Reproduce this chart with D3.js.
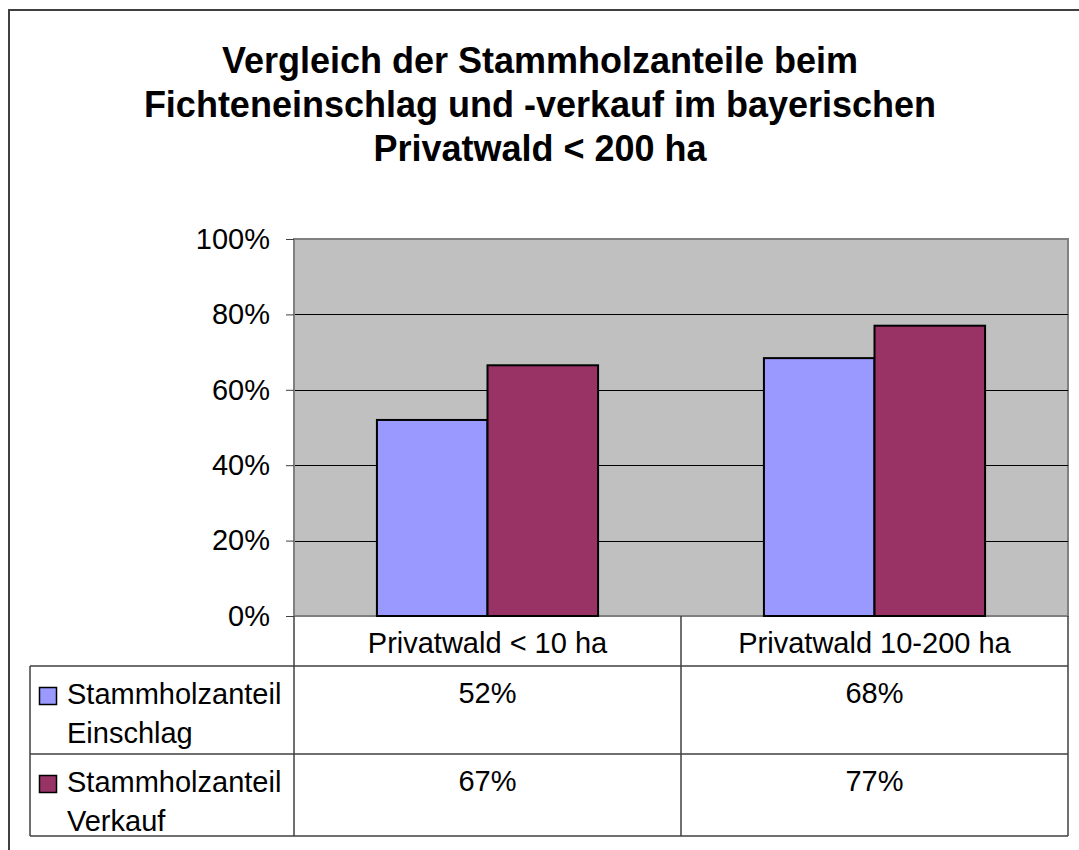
<!DOCTYPE html>
<html>
<head>
<meta charset="utf-8">
<script src="https://cdn.jsdelivr.net/npm/d3@7"></script>
<style>
  body { margin: 0; background: #fff; }
  svg { display: block; font-family: "Liberation Sans", Arial, sans-serif; }
</style>
</head>
<body>
<div id="graph1"></div>
<script>
/* data */
var titleLines = ["Vergleich der Stammholzanteile beim",
                  "Fichteneinschlag und -verkauf im bayerischen",
                  "Privatwald < 200 ha"];
var categories = ["Privatwald < 10 ha", "Privatwald 10-200 ha"];
var seriesNames = [["Stammholzanteil", "Einschlag"], ["Stammholzanteil", "Verkauf"]];
var seriesColors = ["#9999FF", "#993366"];
var einschlag = [0.52, 0.684];   // share of Stammholz, per category
var verkauf = [0.665, 0.77];
var yTicks = [0, 0.2, 0.4, 0.6, 0.8, 1];

var seriesValues = [einschlag, verkauf];

var width = 1079, height = 850;
var plot = {left: 294, right: 1068, top: 239, bottom: 616};
var tbl = {left: 30, catTop: 616, rows: [666, 754, 836]};

drawChart();

function drawChart(){
  var svg = d3.select("#graph1").append("svg")
      .attr("width", width)
      .attr("height", height);

  // outer frame (runs off the right/bottom like the original)
  svg.append("rect")
      .attr("x", 9).attr("y", 10)
      .attr("width", 1200).attr("height", 1000)
      .attr("fill", "none")
      .attr("stroke", "#404040")
      .attr("stroke-width", 2);

  // title
  svg.append("text")
      .attr("text-anchor", "middle")
      .attr("font-weight", "bold")
      .attr("font-size", 36)
      .selectAll("tspan")
      .data(titleLines)
      .enter().append("tspan")
      .attr("x", 540)
      .attr("y", function(d, i){ return 73 + i * 44; })
      .text(function(d){ return d; });

  var x = d3.scaleBand()
      .domain(categories)
      .range([plot.left, plot.right]);

  var xs = d3.scaleBand()
      .domain([0, 1])
      .range([0, x.bandwidth()])
      .paddingInner(0)
      .paddingOuter(0.75);

  var y = d3.scaleLinear()
      .domain([0, 1])
      .range([plot.bottom, plot.top]);

  // plot background
  svg.append("rect")
      .attr("x", plot.left).attr("y", plot.top)
      .attr("width", plot.right - plot.left)
      .attr("height", plot.bottom - plot.top)
      .attr("fill", "#C0C0C0")
      .attr("stroke", "#808080")
      .attr("stroke-width", 2);

  // gridlines
  svg.append("g")
      .selectAll("line")
      .data(yTicks.filter(function(d){ return d > 0 && d < 1; }))
      .enter().append("line")
      .attr("x1", plot.left).attr("x2", plot.right)
      .attr("y1", function(d){ return Math.round(y(d)) + 0.5; })
      .attr("y2", function(d){ return Math.round(y(d)) + 0.5; })
      .attr("stroke", "#000")
      .attr("stroke-width", 1);

  // y axis
  var yaxis = svg.append("g")
      .attr("transform", "translate(" + plot.left + ",0)")
      .call(d3.axisLeft(y)
        .tickValues(yTicks)
        .tickFormat(d3.format(".0%"))
        .tickSize(8)
        .tickPadding(16));
  yaxis.selectAll("text")
      .attr("font-size", 29)
      .attr("font-family", "Liberation Sans, Arial, sans-serif")
      .attr("fill", "#000");
  yaxis.select(".domain").attr("stroke", "#808080");
  yaxis.selectAll(".tick line").attr("stroke", "#404040");

  // bars
  var groups = svg.append("g")
      .selectAll("g")
      .data(categories)
      .enter().append("g")
      .attr("transform", function(d){ return "translate(" + x(d) + ",0)"; });

  groups.selectAll("rect")
      .data(function(d, ci){ return seriesValues.map(function(s, si){ return {s: si, v: s[ci]}; }); })
      .enter().append("rect")
      .attr("x", function(d){ return xs(d.s); })
      .attr("width", xs.bandwidth())
      .attr("y", function(d){ return y(d.v); })
      .attr("height", function(d){ return y(0) - y(d.v); })
      .attr("fill", function(d){ return seriesColors[d.s]; })
      .attr("stroke", "#000")
      .attr("stroke-width", 2);

  // data table lines
  var tg = svg.append("g")
      .attr("stroke", "#404040")
      .attr("stroke-width", 1.5);
  tbl.rows.forEach(function(yy){
    tg.append("line").attr("x1", tbl.left).attr("x2", plot.right)
      .attr("y1", yy).attr("y2", yy);
  });
  tg.append("line").attr("x1", tbl.left).attr("x2", tbl.left)
      .attr("y1", tbl.rows[0]).attr("y2", tbl.rows[2]);
  [plot.left, x(categories[1]), plot.right].forEach(function(xx){
    tg.append("line").attr("x1", xx).attr("x2", xx)
      .attr("y1", tbl.catTop).attr("y2", tbl.rows[2]);
  });

  // category labels
  svg.append("g")
      .selectAll("text")
      .data(categories)
      .enter().append("text")
      .attr("x", function(d){ return x(d) + x.bandwidth() / 2; })
      .attr("y", 653)
      .attr("text-anchor", "middle")
      .attr("font-size", 29)
      .text(function(d){ return d; });

  // row labels with legend keys, and values
  seriesNames.forEach(function(lines, si){
    var top = tbl.rows[si];
    svg.append("rect")
      .attr("x", 39.5).attr("y", top + 21.5)
      .attr("width", 17).attr("height", 17)
      .attr("fill", seriesColors[si])
      .attr("stroke", "#000")
      .attr("stroke-width", 1.5);
    svg.append("text")
      .attr("font-size", 29)
      .selectAll("tspan")
      .data(lines)
      .enter().append("tspan")
      .attr("x", 67)
      .attr("y", function(d, i){ return top + 38 + i * 39; })
      .text(function(d){ return d; });

    svg.append("g")
      .selectAll("text")
      .data(categories)
      .enter().append("text")
      .attr("x", function(d){ return x(d) + x.bandwidth() / 2; })
      .attr("y", top + 37)
      .attr("text-anchor", "middle")
      .attr("font-size", 29)
      .text(function(d, ci){ return Math.round(seriesValues[si][ci] * 100) + "%"; });
  });
}
</script>
</body>
</html>
